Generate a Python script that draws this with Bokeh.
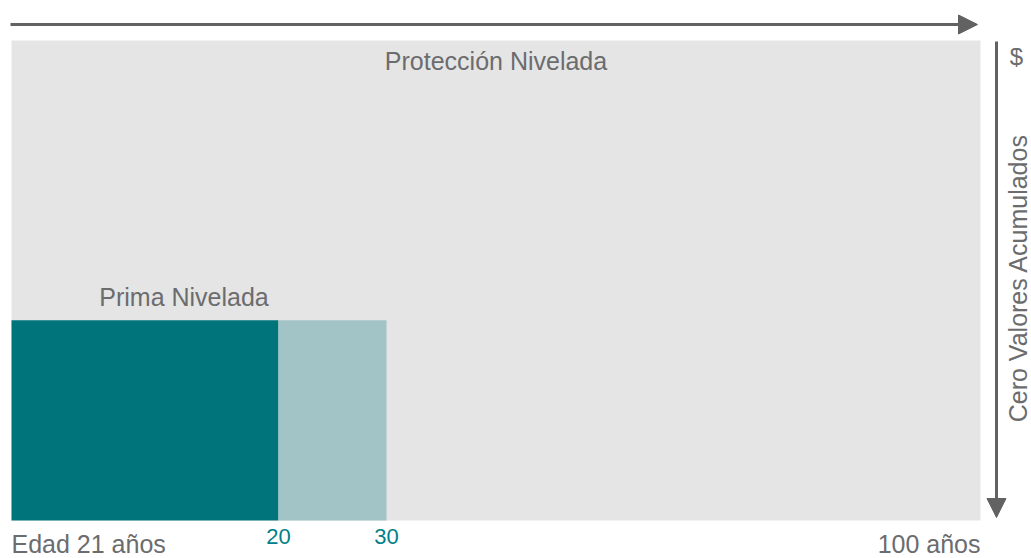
import math
from bokeh.plotting import figure
from bokeh.models import Range1d, Label, Arrow, NormalHead, ColumnDataSource
from bokeh.embed import file_html
from bokeh.resources import INLINE

# ---------------- data ----------------
protection_label = "Protección Nivelada"
protection_end = 100.0          # share of horizontal span (age 21 -> 100)
protection_height = 100.0

premium_label = "Prima Nivelada"
premium_starts = [0.0, 27.55]   # horizontal position of each premium block
premium_ends = [27.55, 38.7]
premium_height = [41.7, 41.7]

tick_positions = [0.0, 27.55, 38.7, 100.0]
tick_labels = ["Edad 21 años", "20", "30", "100 años"]

y_axis_top_label = "$"
y_axis_label = "Cero Valores Acumulados"

# ---------------- styles ----------------
GRAY_BG = "#e5e5e5"
TEAL = "#00747b"
TEAL_LIGHT = "#a2c4c6"
TEXT_GRAY = "#6b6c6e"
ARROW_GRAY = "#626262"
TICK_TEAL = "#00808a"
FONT = "Liberation Sans"

W, H = 1031, 558
OFF = 0  # page offset of the canvas
DY = -9  # vertical correction for text placement
LEFT_PX, RIGHT_PX = 11, 980
TOP_PX, BOTTOM_PX = 40, 520
xs = (RIGHT_PX - LEFT_PX) / 100.0
ys = (BOTTOM_PX - TOP_PX) / 100.0


def sx(px):
    return (px - LEFT_PX) / xs


def sy(py):
    return (BOTTOM_PX - py) / ys


p = figure(
    width=W, height=H,
    x_range=Range1d(sx(OFF), sx(OFF + W)),
    y_range=Range1d(sy(OFF + H), sy(OFF)),
    output_backend="svg", toolbar_location=None,
    x_axis_location=None, y_axis_location=None,
    min_border=0, min_border_left=0, min_border_right=0,
    min_border_top=0, min_border_bottom=0,
)
p.outline_line_color = None
p.grid.visible = False
p.background_fill_color = "white"
p.border_fill_color = "white"

p.quad(left=0, right=protection_end, bottom=0, top=protection_height,
       fill_color=GRAY_BG, line_color=None)

src = ColumnDataSource(dict(left=premium_starts, right=premium_ends,
                            top=premium_height, bottom=[0, 0],
                            color=[TEAL, TEAL_LIGHT]))
p.quad(left="left", right="right", top="top", bottom="bottom",
       fill_color="color", line_color=None, source=src)

# arrows
p.add_layout(Arrow(end=NormalHead(size=19, fill_color=ARROW_GRAY, line_color=ARROW_GRAY),
                   x_start=sx(10), y_start=sy(24), x_end=sx(977), y_end=sy(24),
                   line_color=ARROW_GRAY, line_width=3))
p.add_layout(Arrow(end=NormalHead(size=19, fill_color=ARROW_GRAY, line_color=ARROW_GRAY),
                   x_start=sx(996), y_start=sy(41), x_end=sx(996), y_end=sy(517),
                   line_color=ARROW_GRAY, line_width=3))

# block labels
p.add_layout(Label(x=protection_end / 2, y=sy(69 + DY), text=protection_label,
                   text_font=FONT, text_font_size="25px", text_color=TEXT_GRAY,
                   text_align="center", text_baseline="alphabetic"))
p.add_layout(Label(x=sx(183.5), y=sy(305 + DY), text=premium_label,
                   text_font=FONT, text_font_size="25px", text_color=TEXT_GRAY,
                   text_align="center", text_baseline="alphabetic"))

# bottom tick labels
for pos, lab in zip(tick_positions, tick_labels):
    if lab in ("20", "30"):
        p.add_layout(Label(x=pos, y=sy(545 + DY), text=lab, text_font=FONT,
                           text_font_size="22px", text_color=TICK_TEAL,
                           text_align="center", text_baseline="alphabetic"))
    else:
        p.add_layout(Label(x=pos, y=sy(552 + DY), text=lab, text_font=FONT,
                           text_font_size="25px", text_color=TEXT_GRAY,
                           text_align="left" if pos == 0 else "right",
                           text_baseline="alphabetic"))

# right-side labels
p.add_layout(Label(x=sx(1016), y=sy(65 + DY), text=y_axis_top_label, text_font=FONT,
                   text_font_size="24px", text_color=TEXT_GRAY,
                   text_align="center", text_baseline="alphabetic"))
p.add_layout(Label(x=sx(1017), y=sy(277.5), text=y_axis_label, text_font=FONT,
                   text_font_size="25px", text_color=TEXT_GRAY, angle=math.pi / 2,
                   text_align="center", text_baseline="middle"))

open("out.html", "w").write(file_html(p, INLINE))
